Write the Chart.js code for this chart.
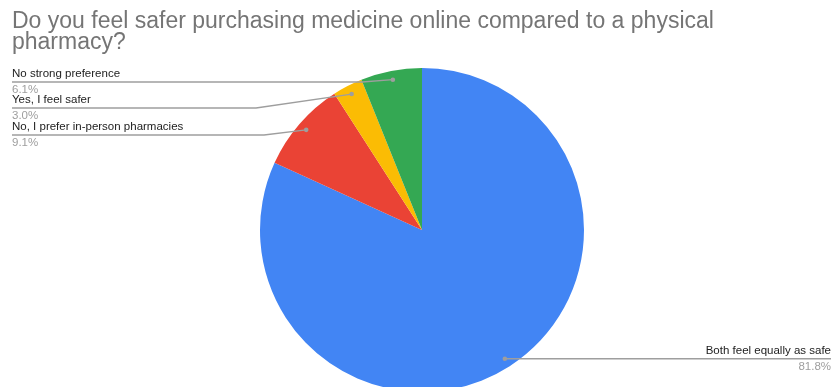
<!DOCTYPE html>
<html>
<head>
<meta charset="utf-8">
<script src="https://cdn.jsdelivr.net/npm/chart.js@4.4.0/dist/chart.umd.min.js"></script>
<style>
  html, body { margin: 0; padding: 0; background: #fff; overflow: hidden; }
  #wrap { width: 834px; height: 392px; }
</style>
</head>
<body>
<div id="wrap"><canvas id="surveyPie" width="834" height="392"></canvas></div>
<script>
const titleLines = ['Do you feel safer purchasing medicine online compared to a physical', 'pharmacy?'];
const answers = ['Both feel equally as safe', 'No, I prefer in-person pharmacies', 'Yes, I feel safer', 'No strong preference'];
const shares = [81.8, 9.1, 3.0, 6.1];
const sliceColors = ['#4285f4', '#ea4335', '#fbbc04', '#34a853'];

// where each callout line ends up (left column or right column)
const callouts = [
    { side: 'right', lineY: null, bendX: null },
    { side: 'left', lineY: 135, bendX: 264 },
    { side: 'left', lineY: 108, bendX: 256 },
    { side: 'left', lineY: 82, bendX: 362 }
];

const FONT = '"Liberation Sans", Arial, sans-serif';

const calloutPlugin = {
    id: 'callouts',
    afterDraw(chart) {
        const ctx = chart.ctx;
        ctx.save();

        // title
        ctx.fillStyle = '#757575';
        ctx.font = '23px ' + FONT;
        ctx.textBaseline = 'alphabetic';
        ctx.textAlign = 'left';
        titleLines.forEach((line, i) => ctx.fillText(line, 12, 28 + i * 21));

        const arcs = chart.getDatasetMeta(0).data;
        arcs.forEach((arc, i) => {
            const mid = (arc.startAngle + arc.endAngle) / 2;
            const r = arc.outerRadius * 0.945;
            const dx = arc.x + Math.cos(mid) * r;
            const dy = arc.y + Math.sin(mid) * r;
            const c = callouts[i];
            const label = answers[i];
            const pct = shares[i].toFixed(1) + '%';

            ctx.strokeStyle = '#9e9e9e';
            ctx.lineWidth = 1.3;
            ctx.beginPath();
            let lineY;
            if (c.side === 'left') {
                lineY = c.lineY;
                ctx.moveTo(12, lineY);
                ctx.lineTo(c.bendX, lineY);
                ctx.lineTo(dx, dy);
            } else {
                lineY = dy;
                ctx.moveTo(dx, lineY);
                ctx.lineTo(831, lineY);
            }
            ctx.stroke();

            ctx.fillStyle = '#9e9e9e';
            ctx.beginPath();
            ctx.arc(dx, dy, 2.3, 0, Math.PI * 2);
            ctx.fill();

            ctx.font = '11.5px ' + FONT;
            const tx = c.side === 'left' ? 12 : 831;
            ctx.textAlign = c.side === 'left' ? 'left' : 'right';
            ctx.fillStyle = '#222222';
            ctx.textBaseline = 'bottom';
            ctx.fillText(label, tx, lineY - 2);
            ctx.fillStyle = '#9e9e9e';
            ctx.textBaseline = 'top';
            ctx.fillText(pct, tx, lineY + 2);
        });

        ctx.restore();
    }
};

new Chart(document.getElementById('surveyPie'), {
    type: 'pie',
    data: {
        labels: answers,
        datasets: [{
            data: shares,
            backgroundColor: sliceColors,
            borderWidth: 0
        }]
    },
    options: {
        responsive: false,
        animation: false,
        layout: {
            padding: { top: 68, bottom: 0, left: 260, right: 250 }
        },
        plugins: {
            legend: { display: false },
            tooltip: { enabled: false },
            title: { display: false }
        }
    },
    plugins: [calloutPlugin]
});
</script>
</body>
</html>
